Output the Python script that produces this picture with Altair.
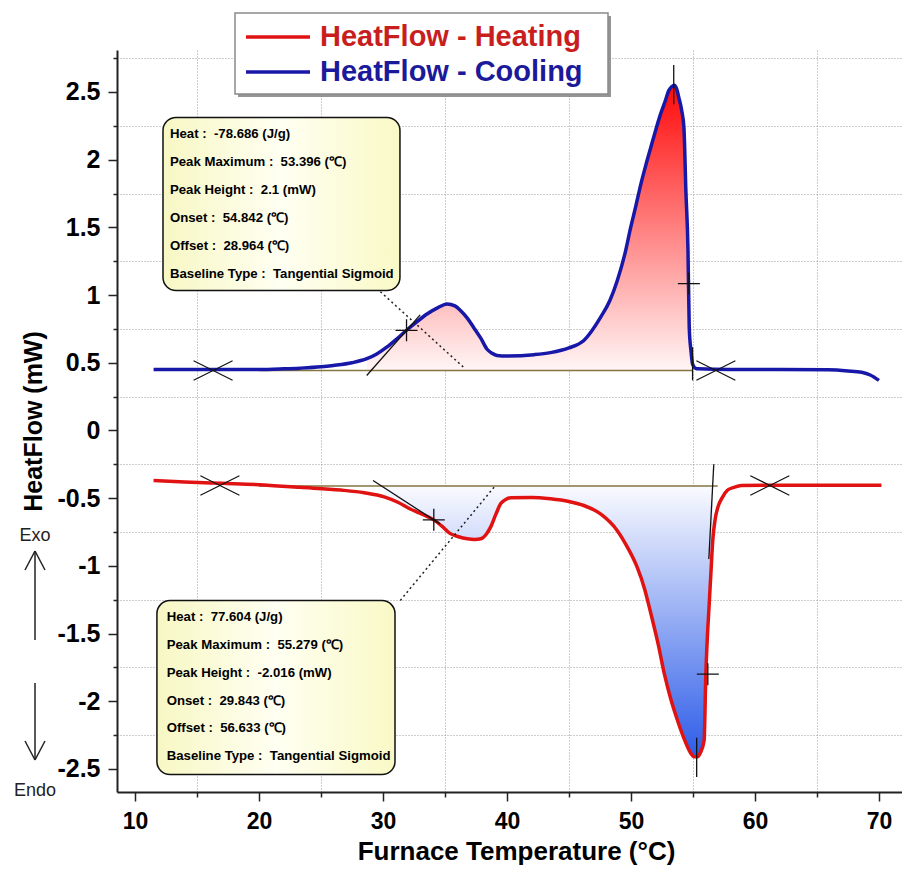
import altair as alt
import pandas as pd

# ---------------- data ----------------
cool_x = [11.5, 14, 17, 20, 22, 23.3, 25, 26.0, 27.5, 28.7, 29.5, 30.3, 31.1, 31.9, 32.7,
          33.55, 34.4, 35.17, 35.8, 36.25, 36.8, 37.3, 37.9, 38.4, 38.8, 39.2, 40, 42.2,
          43.5, 45, 46.2, 47.56, 48.3, 48.9, 49.5, 49.98, 50.4, 50.8, 51.2, 51.6, 52.0,
          52.4, 52.75, 53.05, 53.3, 53.48, 53.7, 53.86, 54.1, 54.27, 54.43, 54.6, 54.7,
          54.85, 54.97, 55.2, 55.4, 58, 62, 65.9, 67.5, 68.6, 69.3, 70.0]
cool_y = [0.45, 0.45, 0.45, 0.45, 0.455, 0.46, 0.47, 0.48, 0.50, 0.53, 0.565, 0.615, 0.675,
          0.74, 0.80, 0.86, 0.905, 0.935, 0.92, 0.886, 0.83, 0.763, 0.68, 0.60, 0.57, 0.554,
          0.55, 0.56, 0.575, 0.61, 0.665, 0.837, 0.96, 1.108, 1.30, 1.50, 1.66, 1.82, 1.96,
          2.09, 2.22, 2.34, 2.43, 2.51, 2.54, 2.55, 2.52, 2.46, 2.36, 2.24, 1.77, 1.33, 0.76,
          0.58, 0.49, 0.46, 0.455, 0.45, 0.45, 0.448, 0.44, 0.43, 0.41, 0.37]

heat_x = [11.5, 14, 17, 20, 23.3, 26.6, 28.5, 30.1, 31.2, 32.2, 33.2, 34.1, 34.8, 35.4, 36.1,
          36.8, 37.4, 37.9, 38.3, 38.7, 39.1, 39.5, 39.9, 40.3, 42, 43.5, 45, 46.2, 47.6,
          48.9, 49.7, 50.5, 51.1, 51.6, 52.2, 52.7, 53.2, 53.75, 54.3, 54.8, 55.1, 55.37,
          55.6, 55.9, 56.04, 56.15, 56.3, 56.45, 56.6, 56.8, 57.0, 57.4, 57.8, 58.3, 58.9,
          62, 66, 70.2]
heat_y = [-0.37, -0.38, -0.39, -0.40, -0.42, -0.44, -0.46, -0.49, -0.53, -0.58, -0.62, -0.66,
          -0.71, -0.76, -0.785, -0.80, -0.805, -0.80, -0.77, -0.71, -0.62, -0.54, -0.51,
          -0.497, -0.495, -0.505, -0.525, -0.554, -0.62, -0.74, -0.86, -1.01, -1.17, -1.35,
          -1.58, -1.80, -1.98, -2.14, -2.28, -2.38, -2.41, -2.41, -2.38, -2.29, -1.80, -1.55,
          -1.30, -1.05, -0.81, -0.65, -0.57, -0.49, -0.44, -0.42, -0.406, -0.405, -0.405,
          -0.405]

cool_base = 0.443
heat_base = -0.41
cool_fill_from, cool_fill_to = 28.7, 55.0
heat_fill_from, heat_fill_to = 29.4, 56.7

# baseline segments (x1, x2, y)
base_x1 = [20.0, 20.0]
base_x2 = [55.0, 57.0]
base_y = [cool_base, heat_base]

# baseline end markers (X) and inflection / half-height markers (+)
cross_x = [16.3, 56.85, 16.85, 61.2]
cross_y = [0.443, 0.443, -0.406, -0.406]
plus_x = [31.9, 54.67, 34.1, 56.2]
plus_y = [0.74, 1.085, -0.66, -1.80]

# solid guide segments: peak lines and tangents
seg_x1 = [53.45, 54.97, 28.69, 55.3, 56.68, 29.2]
seg_y1 = [2.70, 0.615, 0.406, -2.27, -0.25, -0.37]
seg_x2 = [53.45, 54.97, 33.0, 55.3, 56.28, 34.6]
seg_y2 = [2.41, 0.37, 0.854, -2.56, -0.95, -0.69]

# dotted guide segments
dot_x1 = [29.79, 38.96]
dot_y1 = [1.025, -0.419]
dot_x2 = [36.52, 31.4]
dot_y2 = [0.465, -1.255]

NB = "\u00a0"
box1_lines = [f"Heat :{NB} -78.686 (J/g)", f"Peak Maximum :{NB} 53.396 (\u2103)",
              f"Peak Height :{NB} 2.1 (mW)", f"Onset :{NB} 54.842 (\u2103)",
              f"Offset :{NB} 28.964 (\u2103)", f"Baseline Type :{NB} Tangential Sigmoid"]
box2_lines = [f"Heat :{NB} 77.604 (J/g)", f"Peak Maximum :{NB} 55.279 (\u2103)",
              f"Peak Height :{NB} -2.016 (mW)", f"Onset :{NB} 29.843 (\u2103)",
              f"Offset :{NB} 56.633 (\u2103)", f"Baseline Type :{NB} Tangential Sigmoid"]

x_ticks = [10, 15, 20, 25, 30, 35, 40, 45, 50, 55, 60, 65, 70]
y_ticks = [-2.5 + 0.25 * i for i in range(22)]

# ---------------- styling ----------------
SANS = "Liberation Sans, Arial, sans-serif"
BLUE = "#1818a8"
RED = "#e01212"

xs = alt.Scale(domain=[8.55, 71.86], nice=False, zero=False)
ys = alt.Scale(domain=[-2.67, 2.81], nice=False, zero=False)

major_x = "datum.value % 10 == 0"
major_y = "abs(datum.value * 2 - round(datum.value * 2)) < 0.001"

x_axis = alt.Axis(
    values=x_ticks, title="Furnace Temperature (°C)",
    labelExpr=f"{major_x} ? datum.label : ''",
    grid=True, gridDash=[1, 2], gridColor="#9a9a9a", gridWidth=1,
    gridOpacity={"condition": {"test": major_x, "value": 0}, "value": 1},
    tickSize={"condition": {"test": major_x, "value": 9}, "value": 5},
    tickColor="#222222", tickWidth=1.5, domainColor="#222222", domainWidth=2,
    labelFont=SANS, labelFontSize=23, labelFontWeight="bold", labelColor="black",
    labelPadding=9, labelFlush=False,
    titleFont=SANS, titleFontSize=26, titleFontWeight="bold", titleColor="black",
    titleX=399, titleY=59, titleBaseline="middle", titleAlign="center")

y_axis = alt.Axis(
    values=y_ticks, title="HeatFlow (mW)",
    labelExpr=f"{major_y} ? ('' + datum.value) : ''",
    grid=True, gridDash=[1, 2], gridColor="#9a9a9a", gridWidth=1,
    gridOpacity={"condition": {"test": major_y, "value": 0}, "value": 1},
    tickSize={"condition": {"test": major_y, "value": 9}, "value": 4},
    tickColor="#222222", tickWidth=1.5, domainColor="#222222", domainWidth=2,
    labelFont=SANS, labelFontSize=25, labelFontWeight="bold", labelColor="black",
    labelPadding=8, labelFlush=False,
    titleFont=SANS, titleFontSize=25, titleFontWeight="bold", titleColor="black",
    titleX=-84, titleY=371, titleBaseline="middle", titleAlign="center", titleAngle=-90)

cool_df = pd.DataFrame({"x": cool_x, "y": cool_y})
heat_df = pd.DataFrame({"x": heat_x, "y": heat_y})


def X(f="x"):
    return alt.X(f, type="quantitative", scale=xs, axis=x_axis)


def Y(f="y"):
    return alt.Y(f, type="quantitative", scale=ys, axis=y_axis)


red_grad = alt.Gradient(gradient="linear", x1=0, y1=0, x2=0, y2=1,
                        stops=[alt.GradientStop(color="#ff0a0a", offset=0),
                               alt.GradientStop(color="#fff6f6", offset=1)])
blue_grad = alt.Gradient(gradient="linear", x1=0, y1=0, x2=0, y2=1,
                         stops=[alt.GradientStop(color="#fafbff", offset=0),
                                alt.GradientStop(color="#2d5ce8", offset=1)])
box_grad = alt.Gradient(gradient="linear", x1=0, y1=0, x2=1, y2=0,
                        stops=[alt.GradientStop(color="#f7f7c4", offset=0),
                               alt.GradientStop(color="#fffff2", offset=0.5),
                               alt.GradientStop(color="#f9f9c6", offset=1)])

layers = []

# fills
layers.append(
    alt.Chart(cool_df).transform_filter(
        f"datum.x >= {cool_fill_from} && datum.x <= {cool_fill_to}"
    ).transform_calculate(b=f"{cool_base}").mark_area(
        color=red_grad, interpolate="monotone"
    ).encode(x=X(), y=Y(), y2="b:Q")
)
layers.append(
    alt.Chart(heat_df).transform_filter(
        f"datum.x >= {heat_fill_from} && datum.x <= {heat_fill_to}"
    ).transform_calculate(b=f"{heat_base}").mark_area(
        color=blue_grad, interpolate="monotone"
    ).encode(x=X(), y=Y(), y2="b:Q")
)

# baselines
base_df = pd.DataFrame({"x1": base_x1, "x2": base_x2, "y": base_y})
layers.append(alt.Chart(base_df).mark_rule(color="#857540", strokeWidth=1.5).encode(
    x=X("x1"), x2="x2:Q", y=Y("y")))

# curves
layers.append(alt.Chart(cool_df).mark_line(color=BLUE, strokeWidth=3.5, interpolate="monotone")
              .encode(x=X(), y=Y()))
layers.append(alt.Chart(heat_df).mark_line(color=RED, strokeWidth=3.5, interpolate="monotone")
              .encode(x=X(), y=Y()))

# guide segments
dot_df = pd.DataFrame({"x1": dot_x1, "y1": dot_y1, "x2": dot_x2, "y2": dot_y2})
layers.append(alt.Chart(dot_df).mark_rule(color="#222222", strokeWidth=1.5, strokeDash=[2, 3])
              .encode(x=X("x1"), y=Y("y1"), x2="x2:Q", y2="y2:Q"))
seg_df = pd.DataFrame({"x1": seg_x1, "y1": seg_y1, "x2": seg_x2, "y2": seg_y2})
layers.append(alt.Chart(seg_df).mark_rule(color="#111111", strokeWidth=1.3)
              .encode(x=X("x1"), y=Y("y1"), x2="x2:Q", y2="y2:Q"))

# markers
cross_df = pd.DataFrame({"x": cross_x, "y": cross_y})
layers.append(alt.Chart(cross_df).mark_point(
    shape="M-1,-0.5L1,0.5M-1,0.5L1,-0.5", size=1521, filled=False, color="#111111",
    strokeWidth=1.2, opacity=1).encode(x=X(), y=Y()))
plus_df = pd.DataFrame({"x": plus_x, "y": plus_y})
layers.append(alt.Chart(plus_df).mark_point(
    shape="M-1,0L1,0M0,-1L0,1", size=484, filled=False, color="#111111",
    strokeWidth=1.3, opacity=1).encode(x=X(), y=Y()))

# annotation boxes (data coordinates)
box_df = pd.DataFrame({"x1": [12.26, 11.77], "x2": [31.37, 30.97],
                       "y1": [2.312, -1.256], "y2": [1.034, -2.541]})
layers.append(alt.Chart(box_df).mark_rect(cornerRadius=13, fill="#6a6a6a", opacity=0.75,
                                          xOffset=3, yOffset=3)
              .encode(x=X("x1"), x2="x2:Q", y=Y("y1"), y2="y2:Q"))
layers.append(alt.Chart(box_df).mark_rect(cornerRadius=13, fill=box_grad, stroke="#111111",
                                          strokeWidth=1.5)
              .encode(x=X("x1"), x2="x2:Q", y=Y("y1"), y2="y2:Q"))

txt1 = pd.DataFrame({"t": box1_lines, "i": range(6)})
layers.append(alt.Chart(txt1).transform_calculate(x="12.82", y="2.193 - 0.2068 * datum.i")
              .mark_text(align="left", baseline="middle", font=SANS, fontSize=13.2,
                         fontWeight="bold", color="black")
              .encode(x=X("x"), y=Y("y"), text="t:N"))
txt2 = pd.DataFrame({"t": box2_lines, "i": range(6)})
layers.append(alt.Chart(txt2).transform_calculate(x="12.56", y="-1.381 - 0.2046 * datum.i")
              .mark_text(align="left", baseline="middle", font=SANS, fontSize=13.2,
                         fontWeight="bold", color="black")
              .encode(x=X("x"), y=Y("y"), text="t:N"))

one = pd.DataFrame({"a": [0]})

# legend (pixel positions relative to plot area)
layers.append(alt.Chart(one).mark_rect(fill="#7a7a7a", opacity=0.8).encode(
    x=alt.value(121), x2=alt.value(494), y=alt.value(-34), y2=alt.value(47)))
layers.append(alt.Chart(one).mark_rect(fill="white", stroke="#8a8a8a", strokeWidth=1.5).encode(
    x=alt.value(118), x2=alt.value(491), y=alt.value(-37), y2=alt.value(44)))
layers.append(alt.Chart(one).mark_rule(color=RED, strokeWidth=3.5).encode(
    x=alt.value(129), x2=alt.value(193), y=alt.value(-13)))
layers.append(alt.Chart(one).mark_rule(color=BLUE, strokeWidth=3.5).encode(
    x=alt.value(129), x2=alt.value(193), y=alt.value(22)))
layers.append(alt.Chart(one).mark_text(align="left", baseline="middle", font=SANS, fontSize=29,
                                       fontWeight="bold", color="#c81e1e").encode(
    x=alt.value(203), y=alt.value(-13), text=alt.value("HeatFlow - Heating")))
layers.append(alt.Chart(one).mark_text(align="left", baseline="middle", font=SANS, fontSize=29,
                                       fontWeight="bold", color="#1a1a9a").encode(
    x=alt.value(203), y=alt.value(22), text=alt.value("HeatFlow - Cooling")))

# Exo / Endo indicators
layers.append(alt.Chart(one).mark_text(align="center", baseline="middle", font=SANS,
                                       fontSize=18, color="#222222").encode(
    x=alt.value(-82), y=alt.value(486), text=alt.value("Exo")))
layers.append(alt.Chart(one).mark_text(align="center", baseline="middle", font=SANS,
                                       fontSize=18, color="#222222").encode(
    x=alt.value(-82), y=alt.value(741), text=alt.value("Endo")))
arrow_segs = [(-82, 501, -82, 590), (-92, 520, -82, 501), (-72, 520, -82, 501),
              (-82, 633, -82, 710), (-92, 691, -82, 710), (-72, 691, -82, 710)]
for (ax1, ay1, ax2, ay2) in arrow_segs:
    layers.append(alt.Chart(one).mark_rule(color="#222222", strokeWidth=1.5).encode(
        x=alt.value(ax1), y=alt.value(ay1), x2=alt.value(ax2), y2=alt.value(ay2)))

chart = alt.layer(*layers).properties(
    width=785, height=742,
    autosize=alt.AutoSizeParams(type="none"),
    padding={"left": 109, "top": 42, "right": 0, "bottom": 74},
    background="white",
).configure_view(stroke=None)

chart.save("out.html", embed_options={"renderer": "svg", "actions": False})
